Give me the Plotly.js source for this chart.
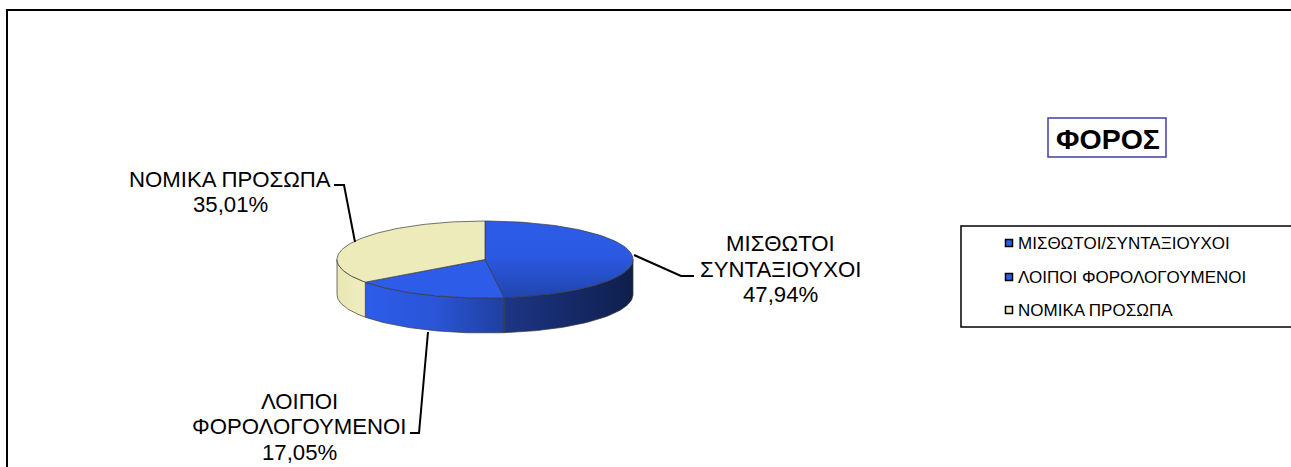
<!DOCTYPE html>
<html>
<head>
<meta charset="utf-8">
<script src="https://cdn.plot.ly/plotly-3.0.1.min.js"></script>
<style>html,body{margin:0;padding:0;background:#fff;overflow:hidden}#c{width:1291px;height:467px}</style>
</head>
<body>
<div id="c"></div>
<script>
const categories = ['ΜΙΣΘΩΤΟΙ/ΣΥΝΤΑΞΙΟΥΧΟΙ', 'ΛΟΙΠΟΙ ΦΟΡΟΛΟΓΟΥΜΕΝΟΙ', 'ΝΟΜΙΚΑ ΠΡΟΣΩΠΑ'];
const labelLines = [['ΜΙΣΘΩΤΟΙ', 'ΣΥΝΤΑΞΙΟΥΧΟΙ'], ['ΛΟΙΠΟΙ', 'ΦΟΡΟΛΟΓΟΥΜΕΝΟΙ'], ['ΝΟΜΙΚΑ ΠΡΟΣΩΠΑ']];
const values = [47.94, 17.05, 35.01];
const legendColors = ['#2c5ce8', '#2c5ce8', '#f5f3bd'];
const chartTitle = 'ΦΟΡΟΣ';

const W = 1291, H = 467;
const cx = 485, cy = 259.5, rx = 148, ry = 38.5, depth = 35;
const font = 'Liberation Sans, Arial, sans-serif';
const topFill = [
  {fillgradient:{type:'vertical', colorscale:[[0,'#2145ad'],[0.55,'#2b59e2'],[1,'#2c5ce8']]}},
  {fillcolor:'#2c5ce8'},
  {fillcolor:'#ecebb9'}
];
const wallGrad = [
  [[0,'#1d3586'],[1,'#0f1f4c']],
  [[0,'#2c5ce9'],[0.5,'#2a55d6'],[1,'#1f409f']],
  [[0,'#e8e6b2'],[1,'#f0eebf']]
];

const pt = (deg, dy) => {
  const a = deg * Math.PI / 180;
  return [cx + rx * Math.sin(a), cy - ry * Math.cos(a) + dy];
};
const arc = (a0, a1, dy) => {
  const n = Math.max(2, Math.ceil(Math.abs(a1 - a0) / 1.5));
  const out = [];
  for (let i = 0; i <= n; i++) out.push(pt(a0 + (a1 - a0) * i / n, dy));
  return out;
};

const total = values.reduce((s, v) => s + v, 0);
let cum = 0;
const spans = values.map(v => { const a0 = cum; cum += v / total * 360; return [a0, cum]; });

const traces = [];
const edge = {color:'#3a3a3a', width:0.7};
// side walls (only the front half of the ellipse is visible)
spans.forEach((s, i) => {
  const a0 = Math.max(s[0], 90), a1 = Math.min(s[1], 270);
  if (a1 <= a0) return;
  const poly = arc(a0, a1, 0).concat(arc(a1, a0, depth));
  poly.push(poly[0]);
  traces.push({type:'scatter', mode:'lines', x:poly.map(p=>p[0]), y:poly.map(p=>p[1]),
    fill:'toself', fillgradient:{type:'horizontal', colorscale:wallGrad[i]},
    line:edge, showlegend:false, hoverinfo:'skip'});
});
// top faces
spans.forEach((s, i) => {
  const poly = [[cx, cy]].concat(arc(s[0], s[1], 0));
  poly.push([cx, cy]);
  traces.push(Object.assign({type:'scatter', mode:'lines', x:poly.map(p=>p[0]), y:poly.map(p=>p[1]),
    fill:'toself', line:edge, showlegend:false,
    text:categories[i] + ' ' + values[i], hoverinfo:'text'}, topFill[i]));
});
// legend entries: native text, swatches placed right next to it
const swatchY = [243, 277, 310];
categories.forEach((c, i) => {
  traces.push({type:'scatter', mode:'markers', x:[null], y:[null], name:c, legendgroup:'g'+i,
    marker:{symbol:'square', size:8, color:'rgba(255,255,255,0)', opacity:0, line:{width:0, color:'rgba(255,255,255,0)'}},
    showlegend:true, hoverinfo:'skip'});
  traces.push({type:'scatter', mode:'markers', x:[1009], y:[swatchY[i]],
    marker:{symbol:'square', size:7, color:legendColors[i], line:{color:'#000', width:1.5}},
    showlegend:false, hoverinfo:'skip'});
});

const pct = v => v.toFixed(2).replace('.', ',') + '%';
const lineH = 25.5;
const labelPos = [[780, 243.5], [299, 401], [230, 179]];
const annotations = [];
labelLines.forEach((lines, i) => {
  lines.concat([pct(values[i])]).forEach((t, j) => {
    annotations.push({xref:'x', yref:'y', x:labelPos[i][0], y:labelPos[i][1] + j*lineH, text:t,
      showarrow:false, xanchor:'center', yanchor:'middle', font:{family:font, size:22.2, color:'#000'}});
  });
});

const leader = (pts) => ({type:'path', xref:'x', yref:'y',
  path:'M' + pts.map(p => p.join(',')).join('L'), line:{color:'#000', width:2}});

const layout = {
  width:W, height:H, margin:{l:0,r:0,t:0,b:0}, autosize:false,
  paper_bgcolor:'#fff', plot_bgcolor:'#fff',
  xaxis:{range:[0,W], visible:false, fixedrange:true},
  yaxis:{range:[H,0], visible:false, fixedrange:true},
  title:{text:'<b>'+chartTitle+'</b>', x:1108/W, y:1-139/H, xanchor:'center', yanchor:'middle',
    font:{family:font, size:28.5, color:'#000'}},
  showlegend:true,
  legend:{x:978/W, y:1-225/H, xanchor:'left', yanchor:'top', bgcolor:'rgba(0,0,0,0)',
    font:{family:font, size:17, color:'#000'}, tracegroupgap:8.5, itemwidth:30},
  annotations,
  shapes:[
    {type:'rect', xref:'x', yref:'y', x0:7, y0:10, x1:W+10, y1:H+10, line:{color:'#000', width:2}},
    {type:'rect', xref:'x', yref:'y', x0:1048, y0:118, x1:1166, y1:157, line:{color:'#3f3fa5', width:1.5}},
    {type:'rect', xref:'x', yref:'y', x0:961, y0:226, x1:W+10, y1:327, line:{color:'#000', width:1.5}},
    leader([[334,185],[344,185],[355,242]]),
    leader([[634,255],[681,276],[694,276]]),
    leader([[428,332],[419,433],[410,433]])
  ]
};
Plotly.newPlot('c', traces, layout, {displayModeBar:false, staticPlot:true});
</script>
</body>
</html>
